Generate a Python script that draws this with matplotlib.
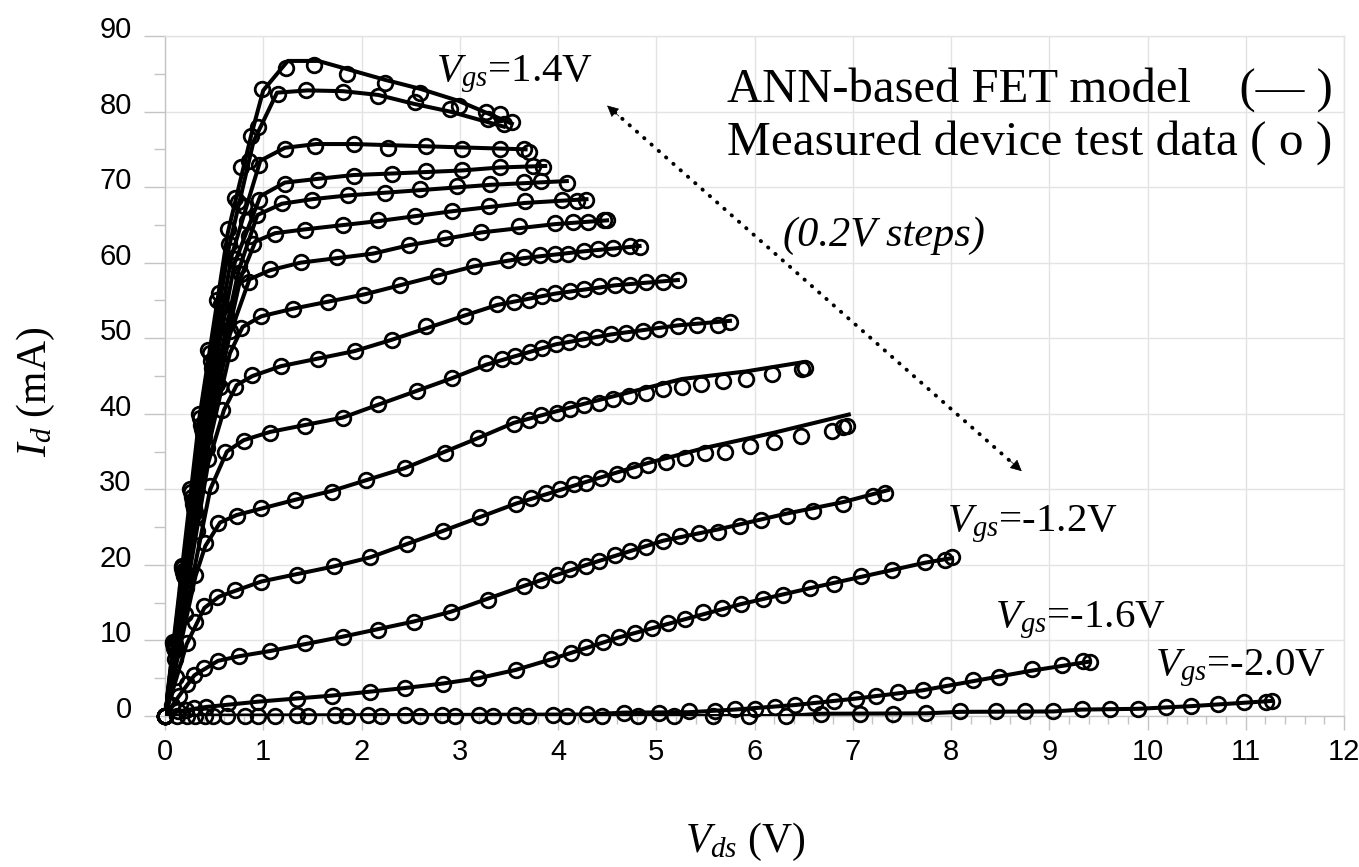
"""
I-V characteristics of the FET: ANN model (lines) vs measured test data (circles).
"""

import matplotlib
matplotlib.use("Agg")
import matplotlib.pyplot as plt
import matplotlib.transforms as mtransforms
from matplotlib.ticker import MultipleLocator

# ---------------------------------------------------------------------------
# measured device test data  (Vds in V, Id in mA), one pair per Vgs
# ---------------------------------------------------------------------------
VDS_P14 = [0, 0.08, 0.17, 0.25, 0.35, 0.44, 0.53, 0.64, 0.71, 0.77, 0.88, 0.99, 1.23, 1.52, 1.85, 2.24, 2.60, 2.99, 3.27, 3.41, 3.53]
ID_P14 = [0, 9.8, 19.8, 30.0, 40.0, 48.5, 55.0, 64.5, 68.6, 72.6, 76.8, 83.0, 85.8, 86.1, 85.0, 83.8, 82.5, 80.8, 79.9, 79.7, 78.6]

VDS_P12 = [0, 0.08, 0.17, 0.26, 0.36, 0.46, 0.55, 0.65, 0.74, 0.85, 0.95, 1.15, 1.44, 1.81, 2.17, 2.54, 2.90, 3.29, 3.45]
ID_P12 = [0, 9.6, 19.6, 29.6, 39.5, 48.0, 56.0, 62.5, 68.0, 73.5, 78.0, 82.3, 82.8, 82.6, 82.1, 81.2, 80.3, 79.0, 78.3]

VDS_P10 = [0, 0.09, 0.18, 0.27, 0.37, 0.47, 0.57, 0.68, 0.80, 0.96, 1.22, 1.53, 1.92, 2.27, 2.66, 3.02, 3.41, 3.65, 3.70]
ID_P10 = [0, 9.5, 19.2, 29.0, 38.5, 47.0, 54.5, 61.5, 67.5, 72.9, 75.0, 75.5, 75.7, 75.2, 75.4, 75.0, 75.0, 75.0, 74.6]

VDS_P08 = [0, 0.09, 0.18, 0.28, 0.38, 0.48, 0.59, 0.71, 0.83, 0.96, 1.22, 1.56, 1.92, 2.31, 2.66, 3.02, 3.41, 3.75, 3.85]
ID_P08 = [0, 9.4, 19.0, 28.5, 38.0, 46.0, 53.5, 60.5, 65.5, 68.3, 70.4, 71.0, 71.5, 71.8, 72.1, 72.3, 72.7, 72.8, 72.7]

VDS_P06 = [0, 0.09, 0.19, 0.29, 0.39, 0.50, 0.62, 0.75, 0.85, 0.94, 1.19, 1.50, 1.86, 2.24, 2.60, 2.97, 3.31, 3.65, 3.83, 4.09]
ID_P06 = [0, 9.3, 19.0, 28.5, 37.5, 45.5, 53.0, 59.5, 63.5, 66.3, 67.9, 68.3, 69.0, 69.2, 69.7, 70.2, 70.4, 70.7, 70.8, 70.6]

VDS_P04 = [0, 0.09, 0.19, 0.29, 0.40, 0.51, 0.64, 0.77, 0.90, 1.12, 1.42, 1.81, 2.17, 2.54, 2.92, 3.30, 3.66, 4.04, 4.19, 4.29]
ID_P04 = [0, 9.2, 18.8, 28.0, 37.0, 45.0, 52.5, 58.5, 62.5, 63.8, 64.3, 65.0, 65.6, 66.2, 66.9, 67.5, 68.1, 68.3, 68.1, 68.3]

VDS_P02 = [0, 0.09, 0.19, 0.30, 0.41, 0.53, 0.66, 0.85, 1.07, 1.38, 1.75, 2.12, 2.48, 2.85, 3.22, 3.60, 3.97, 4.15, 4.31, 4.47, 4.50]
ID_P02 = [0, 9.0, 18.5, 27.5, 36.0, 44.0, 51.0, 57.4, 59.2, 60.1, 60.7, 61.2, 62.4, 63.3, 64.0, 64.8, 65.2, 65.4, 65.4, 65.6, 65.6]

VDS_Z00 = [0, 0.10, 0.20, 0.31, 0.43, 0.56, 0.66, 0.77, 0.98, 1.30, 1.66, 2.03, 2.39, 2.78, 3.14, 3.49, 3.65, 3.82, 3.97, 4.10, 4.26, 4.41, 4.56, 4.73, 4.83]
ID_Z00 = [0, 9.5, 18.5, 27.0, 35.5, 43.5, 48.0, 51.3, 53.0, 53.9, 54.8, 55.7, 57.1, 58.3, 59.6, 60.4, 60.7, 61.0, 61.2, 61.2, 61.5, 61.8, 61.9, 62.2, 62.1]

VDS_N02 = [0, 0.10, 0.21, 0.32, 0.44, 0.58, 0.71, 0.89, 1.18, 1.56, 1.93, 2.31, 2.66, 3.05, 3.38, 3.55, 3.70, 3.84, 3.97, 4.12, 4.26, 4.42, 4.58, 4.73, 4.90, 5.07, 5.22]
ID_N02 = [0, 9.3, 18.0, 26.5, 34.0, 40.5, 43.6, 45.1, 46.3, 47.2, 48.3, 49.7, 51.6, 53.0, 54.5, 54.8, 55.1, 55.6, 56.0, 56.2, 56.5, 56.9, 57.0, 57.1, 57.4, 57.4, 57.7]

VDS_N04 = [0, 0.10, 0.21, 0.33, 0.46, 0.61, 0.80, 1.07, 1.42, 1.81, 2.17, 2.56, 2.92, 3.27, 3.43, 3.56, 3.71, 3.84, 3.98, 4.11, 4.25, 4.40, 4.54, 4.69, 4.87, 5.03, 5.22, 5.41, 5.63, 5.75]
ID_N04 = [0, 8.8, 17.0, 24.5, 30.5, 34.9, 36.4, 37.5, 38.4, 39.4, 41.3, 43.0, 44.8, 46.7, 47.2, 47.7, 48.2, 48.7, 49.2, 49.5, 49.9, 50.2, 50.5, 50.7, 50.9, 51.2, 51.6, 51.8, 51.8, 52.2]

VDS_N06 = [0, 0.10, 0.20, 0.31, 0.41, 0.54, 0.73, 0.98, 1.32, 1.70, 2.05, 2.44, 2.85, 3.19, 3.55, 3.70, 3.83, 3.99, 4.12, 4.26, 4.42, 4.56, 4.72, 4.90, 5.07, 5.26, 5.46, 5.68, 5.91, 6.18, 6.48, 6.51]
ID_N06 = [0, 7.5, 13.5, 18.7, 22.9, 25.5, 26.5, 27.5, 28.6, 29.7, 31.3, 32.8, 34.8, 36.8, 38.7, 39.2, 39.9, 40.1, 40.6, 41.1, 41.4, 41.9, 42.3, 42.8, 43.3, 43.6, 43.9, 44.3, 44.6, 45.3, 45.9, 46.0]

VDS_N08 = [0, 0.11, 0.22, 0.31, 0.40, 0.53, 0.71, 0.98, 1.34, 1.72, 2.09, 2.46, 2.83, 3.21, 3.57, 3.73, 3.88, 4.02, 4.16, 4.29, 4.44, 4.60, 4.77, 4.92, 5.10, 5.29, 5.50, 5.70, 5.95, 6.20, 6.47, 6.79, 6.90, 6.94]
ID_N08 = [0, 5.2, 9.6, 12.5, 14.5, 15.7, 16.7, 17.8, 18.6, 19.8, 21.0, 22.8, 24.5, 26.3, 28.0, 28.9, 29.5, 30.1, 30.7, 30.9, 31.5, 32.0, 32.6, 33.2, 33.6, 34.2, 34.8, 35.0, 35.7, 36.3, 37.1, 37.7, 38.3, 38.4]

VDS_N10 = [0, 0.07, 0.14, 0.22, 0.30, 0.40, 0.54, 0.75, 1.07, 1.42, 1.81, 2.17, 2.53, 2.91, 3.29, 3.65, 3.83, 3.99, 4.12, 4.29, 4.42, 4.58, 4.73, 4.90, 5.07, 5.24, 5.44, 5.63, 5.85, 6.07, 6.33, 6.60, 6.90, 7.21, 7.33]
ID_N10 = [0, 1.4, 2.6, 4.3, 5.4, 6.4, 7.3, 7.9, 8.6, 9.6, 10.5, 11.4, 12.5, 13.7, 15.4, 17.2, 18.0, 18.7, 19.4, 19.9, 20.5, 21.3, 21.9, 22.4, 23.1, 23.8, 24.2, 24.4, 25.1, 26.0, 26.5, 27.1, 28.0, 29.1, 29.5]

VDS_N12 = [0, 0.13, 0.21, 0.30, 0.42, 0.64, 0.95, 1.34, 1.70, 2.09, 2.44, 2.83, 3.19, 3.57, 3.93, 4.13, 4.29, 4.46, 4.62, 4.78, 4.96, 5.12, 5.29, 5.48, 5.67, 5.86, 6.09, 6.29, 6.56, 6.81, 7.08, 7.40, 7.74, 7.94, 8.01]
ID_N12 = [0, 0.6, 0.8, 1.0, 1.2, 1.7, 1.9, 2.3, 2.65, 3.2, 3.7, 4.2, 5.0, 6.1, 7.5, 8.4, 9.1, 9.8, 10.5, 11.0, 11.6, 12.3, 12.8, 13.7, 14.3, 14.8, 15.5, 16.0, 16.9, 17.5, 18.5, 19.3, 20.4, 20.7, 21.0]

VDS_N16 = [0, 0.12, 0.22, 0.31, 0.49, 0.63, 0.95, 1.34, 1.73, 2.07, 2.44, 2.82, 3.20, 3.56, 3.95, 4.30, 4.67, 5.03, 5.33, 5.60, 5.80, 6.00, 6.21, 6.41, 6.62, 6.81, 7.03, 7.24, 7.46, 7.71, 7.96, 8.22, 8.49, 8.82, 9.13, 9.34, 9.41]
ID_N16 = [0, 0, 0, 0, 0, 0, 0.05, 0.1, 0.1, 0.1, 0.1, 0.1, 0.1, 0.1, 0.1, 0.2, 0.4, 0.4, 0.6, 0.6, 0.9, 0.9, 1.15, 1.45, 1.75, 2.0, 2.25, 2.65, 3.2, 3.4, 4.1, 4.75, 5.2, 6.2, 6.8, 7.3, 7.2]

VDS_N20 = [0, 0.41, 0.81, 1.12, 1.46, 1.85, 2.20, 2.60, 2.95, 3.34, 3.69, 4.09, 4.45, 4.81, 5.18, 5.58, 5.94, 6.32, 6.68, 7.07, 7.41, 7.75, 8.09, 8.46, 8.75, 9.04, 9.33, 9.62, 9.90, 10.19, 10.44, 10.72, 10.98, 11.21, 11.27]
ID_N20 = [0, 0, 0, 0, 0, 0, 0, 0, 0, 0, 0, 0, 0, 0, 0, 0, 0, 0, 0.3, 0.3, 0.3, 0.35, 0.6, 0.6, 0.6, 0.6, 0.9, 0.9, 0.9, 1.15, 1.3, 1.6, 1.8, 1.9, 2.0]

# ---------------------------------------------------------------------------
# ANN-based FET model output (polyline knots)
# ---------------------------------------------------------------------------
MV_P14 = [0, 0.35, 0.64, 0.88, 1.00, 1.25, 1.56, 2.24, 2.60, 2.99, 3.53]
MI_P14 = [0, 39.5, 64.0, 77.0, 82.8, 86.7, 86.7, 84.2, 83.0, 81.4, 78.4]
MV_P12 = [0, 0.36, 0.65, 0.90, 1.14, 1.45, 1.81, 2.17, 2.54, 2.90, 3.45]
MI_P12 = [0, 39.0, 62.0, 76.0, 82.5, 82.8, 82.7, 82.2, 81.0, 80.0, 78.0]
MV_P10 = [0, 0.37, 0.68, 0.97, 1.22, 1.54, 1.92, 2.66, 3.41, 3.67]
MI_P10 = [0, 38.0, 61.0, 73.5, 75.2, 75.7, 75.7, 75.4, 75.1, 75.0]
MV_P08 = [0, 0.38, 0.71, 0.97, 1.22, 1.56, 1.92, 2.31, 3.02, 3.41, 3.87]
MI_P08 = [0, 37.5, 60.0, 68.8, 70.6, 71.1, 71.6, 71.8, 72.2, 72.6, 72.8]
MV_P06 = [0, 0.39, 0.75, 0.94, 1.19, 1.50, 1.86, 2.60, 3.31, 4.09]
MI_P06 = [0, 37.0, 59.0, 66.3, 67.8, 68.4, 68.9, 69.6, 70.3, 70.8]
MV_P04 = [0, 0.40, 0.77, 0.92, 1.12, 1.42, 2.17, 2.92, 3.66, 4.29]
MI_P04 = [0, 36.5, 58.0, 62.8, 63.9, 64.4, 65.5, 66.8, 67.9, 68.4]
MV_P02 = [0, 0.41, 0.66, 0.86, 1.07, 1.38, 2.12, 2.48, 3.22, 3.97, 4.50]
MI_P02 = [0, 35.5, 50.5, 57.8, 59.0, 60.0, 61.2, 62.3, 64.0, 65.1, 65.6]
MV_Z00 = [0, 0.43, 0.66, 0.79, 0.98, 1.30, 2.03, 2.39, 3.14, 3.65, 4.26, 4.83]
MI_Z00 = [0, 35.0, 48.0, 51.5, 52.9, 53.9, 55.8, 57.0, 59.5, 60.6, 61.5, 62.2]
MV_N02 = [0, 0.44, 0.60, 0.73, 0.89, 1.18, 1.93, 2.31, 3.05, 3.38, 3.97, 4.58, 5.22]
MI_N02 = [0, 33.5, 40.5, 43.8, 45.0, 46.3, 48.3, 49.8, 53.0, 54.4, 55.9, 57.0, 57.7]
MV_N04 = [0, 0.46, 0.63, 0.80, 1.07, 1.81, 2.17, 2.92, 3.27, 3.98, 4.54, 5.22, 5.75]
MI_N04 = [0, 30.0, 35.0, 36.5, 37.6, 39.5, 41.2, 44.7, 46.5, 49.2, 50.5, 51.7, 52.3]
MV_N06 = [0, 0.31, 0.41, 0.56, 0.73, 1.32, 1.70, 2.44, 3.19, 3.55, 4.26, 4.56, 5.26, 5.91, 6.48]
MI_N06 = [0, 18.5, 22.5, 25.6, 26.6, 28.6, 29.8, 32.8, 36.8, 38.8, 41.3, 42.3, 44.6, 45.6, 46.8]
MV_N08 = [0, 0.22, 0.40, 0.55, 0.98, 1.72, 2.09, 2.83, 3.57, 4.29, 4.92, 5.50, 6.20, 6.96]
MI_N08 = [0, 9.5, 14.3, 15.8, 17.8, 19.8, 21.0, 24.5, 28.1, 31.0, 33.5, 35.5, 37.5, 39.9]
MV_N10 = [0, 0.14, 0.30, 0.54, 0.75, 1.07, 1.81, 2.53, 2.91, 3.65, 4.29, 5.07, 5.63, 6.33, 6.90, 7.36]
MI_N10 = [0, 2.6, 5.4, 7.3, 7.9, 8.6, 10.5, 12.5, 13.8, 17.2, 20.0, 23.2, 24.7, 26.8, 28.3, 29.9]
MV_N12 = [0, 0.13, 0.42, 0.95, 1.70, 2.44, 2.83, 3.19, 3.57, 3.93, 4.62, 5.29, 5.86, 6.56, 7.08, 7.74, 8.01]
MI_N12 = [0, 0.6, 1.2, 1.9, 2.7, 3.7, 4.3, 5.0, 6.1, 7.5, 10.4, 12.8, 14.8, 16.9, 18.4, 20.3, 20.9]
MV_N16 = [0, 0.50, 4.30, 4.67, 5.33, 5.80, 6.41, 7.03, 7.71, 8.22, 8.82, 9.41]
MI_N16 = [0, 0.05, 0.2, 0.45, 0.5, 0.85, 1.45, 2.3, 3.4, 4.6, 6.0, 7.2]
MV_N20 = [0, 6.32, 6.68, 7.75, 8.09, 9.04, 9.33, 9.90, 10.44, 10.98, 11.27]
MI_N20 = [0, 0.0, 0.3, 0.35, 0.55, 0.6, 0.85, 0.95, 1.3, 1.75, 2.0]

MEASURED = [(VDS_P14, ID_P14), (VDS_P12, ID_P12), (VDS_P10, ID_P10), (VDS_P08, ID_P08),
            (VDS_P06, ID_P06), (VDS_P04, ID_P04), (VDS_P02, ID_P02), (VDS_Z00, ID_Z00),
            (VDS_N02, ID_N02), (VDS_N04, ID_N04), (VDS_N06, ID_N06), (VDS_N08, ID_N08),
            (VDS_N10, ID_N10), (VDS_N12, ID_N12), (VDS_N16, ID_N16), (VDS_N20, ID_N20)]
MODEL = [(MV_P14, MI_P14), (MV_P12, MI_P12), (MV_P10, MI_P10), (MV_P08, MI_P08),
         (MV_P06, MI_P06), (MV_P04, MI_P04), (MV_P02, MI_P02), (MV_Z00, MI_Z00),
         (MV_N02, MI_N02), (MV_N04, MI_N04), (MV_N06, MI_N06), (MV_N08, MI_N08),
         (MV_N10, MI_N10), (MV_N12, MI_N12), (MV_N16, MI_N16), (MV_N20, MI_N20)]

# curve labels: (text, Vds of left edge, Id of baseline)
CURVE_LABELS = [("1.4V", 2.76, 84.0), ("-1.2V", 7.96, 24.5),
                ("-1.6V", 8.45, 11.8), ("-2.0V", 10.08, 5.4)]

SERIF = "Liberation Serif"
SANS = "Liberation Sans"
GRID_GREY = "#e3e3e3"
AXIS_GREY = "#c4c4c4"


def setup_fonts():
    plt.rcParams["mathtext.fontset"] = "custom"
    plt.rcParams["mathtext.rm"] = SERIF
    plt.rcParams["mathtext.it"] = SERIF + ":italic"


def style_axes(fig, ax):
    ax.set_xlim(0, 12)
    ax.set_ylim(0, 90)
    ax.xaxis.set_major_locator(MultipleLocator(1))
    ax.xaxis.set_minor_locator(MultipleLocator(0.2))
    ax.yaxis.set_major_locator(MultipleLocator(10))
    ax.yaxis.set_minor_locator(MultipleLocator(5))
    ax.grid(True, which="major", color=GRID_GREY, lw=1.0)
    ax.set_axisbelow(True)
    for sp in ax.spines.values():
        sp.set_color(AXIS_GREY)
        sp.set_linewidth(1.0)
    ax.spines["top"].set_color(GRID_GREY)
    ax.spines["right"].set_color(GRID_GREY)

    ax.tick_params(axis="both", which="both", color=AXIS_GREY, width=1.0,
                   direction="out", labelsize=21)
    ax.tick_params(axis="y", which="major", length=15, pad=9)
    ax.tick_params(axis="y", which="minor", length=8)
    ax.tick_params(axis="x", which="major", length=10, pad=6)
    ax.tick_params(axis="x", which="minor", length=6)
    for lbl in ax.get_xticklabels() + ax.get_yticklabels():
        lbl.set_fontfamily(SANS)

    # the y labels sit a little above their gridlines in the original
    shift = mtransforms.ScaledTranslation(0, 9 / 100, fig.dpi_scale_trans)
    for tick in ax.yaxis.get_major_ticks():
        tick.label1.set_transform(tick.label1.get_transform() + shift)


def main():
    setup_fonts()
    fig = plt.figure(figsize=(13.59, 8.67), dpi=100)
    ax = fig.add_axes([165 / 1359, 1 - 716 / 867, (1344 - 165) / 1359, (716 - 36) / 867])

    # model lines first, measured circles on top
    for vds, ids in MODEL:
        ax.plot(vds, ids, color="black", lw=2.9, solid_joinstyle="round", zorder=3)
    for vds, ids in MEASURED:
        ax.plot(vds, ids, linestyle="none", marker="o", ms=10.5, mfc="none",
                mec="black", mew=2.0, zorder=4, clip_on=False)

    style_axes(fig, ax)

    # Vgs labels
    for val, x, y in CURVE_LABELS:
        ax.text(x, y, r"$V_{gs}$=" + val, family=SERIF, fontsize=29.5,
                ha="left", va="baseline")

    # dotted double arrow showing the sweep direction
    p_top, p_bot = (4.50, 80.8), (8.72, 32.4)
    ax.plot([4.58, 8.64], [79.9, 33.3], color="black", lw=2.8,
            linestyle=(0, (0.1, 2.4)), dash_capstyle="round", zorder=5)
    for tip, tail in ((p_top, (4.62, 79.4)), (p_bot, (8.60, 33.8))):
        ax.annotate("", xy=tip, xytext=tail,
                    arrowprops=dict(arrowstyle="-|>", color="black", lw=0.5,
                                    mutation_scale=18, shrinkA=0, shrinkB=0))
    ax.text(7.32, 63.5, "(0.2V steps)", family=SERIF, style="italic",
            fontsize=30.5, ha="center", va="center")

    # legend written as text, like the original
    fig.text(727 / 1359, 1 - 102 / 867, "ANN-based FET model    (\u2014 )",
             family=SERIF, fontsize=35, ha="left", va="baseline")
    fig.text(727 / 1359, 1 - 155 / 867, "Measured device test data ( o )",
             family=SERIF, fontsize=35.5, ha="left", va="baseline")

    # axis titles
    fig.text(745 / 1359, 1 - 852 / 867, r"$V_{ds}$ (V)", family=SERIF,
             fontsize=30, ha="center", va="baseline")
    fig.text(36 / 1359, 1 - 392 / 867, r"$I_{d}$ (mA)", family=SERIF,
             fontsize=30, ha="center", va="center", rotation=90)

    fig.savefig("out.png", dpi=100)
    plt.close(fig)


if __name__ == "__main__":
    main()
